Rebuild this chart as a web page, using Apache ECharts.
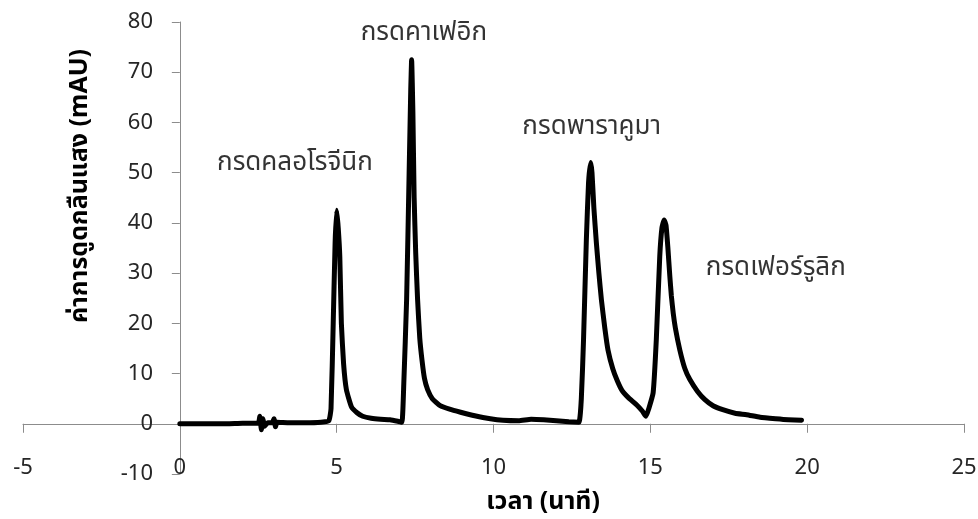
<!DOCTYPE html>
<html>
<head>
<meta charset="utf-8">
<script src="https://cdn.jsdelivr.net/npm/echarts@6/dist/echarts.min.js"></script>
<style>
html,body{margin:0;padding:0;background:#fff;}
#chart{width:978px;height:519px;}
</style>
</head>
<body>
<div id="chart"></div>
<script>
// Retention time (min)
var timeValues = [
  0, 0.5, 1, 1.5, 2, 2.5, 2.55, 2.6, 2.65, 2.7, 2.8, 2.95, 3.0, 3.05, 3.1, 3.5, 4.0, 4.5, 4.75,
  4.82, 4.89, 4.95, 5.0, 5.05, 5.1, 5.15, 5.22, 5.31, 5.47, 5.65, 5.83, 6.1, 6.4, 6.7, 6.95, 7.08,
  7.14, 7.23, 7.31, 7.36, 7.39, 7.43, 7.47, 7.52, 7.58, 7.65, 7.72, 7.8, 7.9, 8.05, 8.3, 8.6, 8.95, 9.4, 9.9,
  10.3, 10.8, 11.2, 11.6, 12.0, 12.4, 12.72,
  12.8, 12.87, 12.96, 13.03, 13.1, 13.14, 13.2, 13.28, 13.36, 13.44, 13.55, 13.65, 13.8, 13.95, 14.1, 14.3, 14.56, 14.75, 14.86,
  14.95, 15.09, 15.19, 15.3, 15.37, 15.44, 15.5, 15.56, 15.62, 15.67, 15.73, 15.8, 15.94, 16.1, 16.26, 16.5, 16.74, 17.0, 17.31, 17.7, 18.07, 18.5, 19.0, 19.4, 19.82
];
// Absorbance (mAU)
var absorbanceValues = [
  0, 0, 0, 0, 0.1, 0.1, 1.5, -1.2, 1.0, -0.5, 0.2, 0.2, 1.0, -0.6, 0.3, 0.2, 0.2, 0.3, 0.6,
  3, 20, 36, 42.5, 39, 33.3, 20, 12, 6.8, 3.4, 2.2, 1.5, 1.1, 0.9, 0.8, 0.5, 0.3,
  8, 24.7, 49.9, 66, 72.5, 62, 45, 34, 24.7, 17, 12.7, 9, 6.8, 5, 3.6, 2.9, 2.3, 1.6, 1.0,
  0.7, 0.6, 0.9, 0.8, 0.6, 0.4, 0.3,
  5, 16.7, 36.6, 48, 52, 50, 43, 36, 30, 24.7, 19, 14.7, 11, 8.5, 6.6, 5.2, 3.8, 2.5, 1.5,
  3, 6.2, 16.7, 33.3, 39, 40.6, 39.5, 35, 29.5, 25.5, 22, 19, 14.7, 11, 8.8, 6.5, 4.8, 3.6, 2.8, 2.1, 1.8, 1.3, 1.0, 0.8, 0.7
];
// Peak annotations
var peakNames = ['กรดคลอโรจีนิก', 'กรดคาเฟอิก', 'กรดพาราคูมา', 'กรดเฟอร์รูลิก'];
var peakLabelTime = [3.67, 7.78, 13.13, 19.0];
var peakLabelAbs = [52.1, 77.8, 59.1, 31.0];
// Axis settings
var xTicks = {min: -5, max: 25, interval: 5};
var yTicks = {min: -10, max: 80, interval: 10};
var xTitle = 'เวลา (นาที)';
var yTitle = 'ค่าการดูดกลืนแสง (mAU)';

var FONT = "'Noto Sans', 'Noto Sans Thai', 'Loma', sans-serif";
var lineData = timeValues.map(function (t, i) { return [t, absorbanceValues[i]]; });
var labelData = peakNames.map(function (n, i) { return {name: n, value: [peakLabelTime[i], peakLabelAbs[i]]}; });

var chart = echarts.init(document.getElementById('chart'), null, {renderer: 'canvas'});
var axisGray = '#8c8c8c';
chart.setOption({
  animation: false,
  backgroundColor: '#ffffff',
  grid: {left: 23, right: 14, top: 22, bottom: 45, containLabel: false, outerBoundsMode: 'none'},
  xAxis: [
    {
      type: 'value', min: xTicks.min, max: xTicks.max, interval: xTicks.interval,
      axisLine: {show: true, onZero: true, onZeroAxisIndex: 0, lineStyle: {color: axisGray, width: 1}},
      axisTick: {show: true, inside: false, length: 9, lineStyle: {color: axisGray}},
      axisLabel: {show: false},
      splitLine: {show: false}
    },
    {
      type: 'value', min: xTicks.min, max: xTicks.max, interval: xTicks.interval,
      position: 'bottom', offset: -25,
      axisLine: {show: false, onZero: false},
      axisTick: {show: false},
      axisLabel: {show: true, color: '#262626', fontSize: 22, fontFamily: FONT, margin: 8},
      splitLine: {show: false}
    }
  ],
  yAxis: [
    {
      type: 'value', min: yTicks.min, max: yTicks.max, interval: yTicks.interval,
      axisLine: {show: true, onZero: true, onZeroAxisIndex: 0, lineStyle: {color: axisGray, width: 1}},
      axisTick: {show: true, inside: false, length: 8, lineStyle: {color: axisGray}},
      axisLabel: {show: false},
      splitLine: {show: false}
    },
    {
      type: 'value', min: yTicks.min, max: yTicks.max, interval: yTicks.interval,
      position: 'left', offset: -138,
      axisLine: {show: false, onZero: false},
      axisTick: {show: false},
      axisLabel: {show: true, color: '#262626', fontSize: 22, fontFamily: FONT, margin: 8},
      splitLine: {show: false}
    }
  ],
  graphic: [
    {type: 'text', x: 543, y: 502, style: {text: xTitle, font: "bold 25px " + FONT, fill: '#000', textAlign: 'center', textVerticalAlign: 'middle'}},
    {type: 'text', x: 80, y: 186, rotation: Math.PI / 2, style: {text: yTitle, font: "bold 25px " + FONT, fill: '#000', textAlign: 'center', textVerticalAlign: 'middle'}}
  ],
  series: [
    {
      type: 'line', xAxisIndex: 0, yAxisIndex: 0, data: lineData,
      showSymbol: false, smooth: 0.15,
      lineStyle: {color: '#000', width: 5, join: 'round', cap: 'round'},
      z: 3
    },
    {
      type: 'scatter', xAxisIndex: 0, yAxisIndex: 0, data: labelData,
      symbolSize: 1, itemStyle: {color: 'rgba(0,0,0,0)'},
      label: {show: true, position: 'inside', formatter: '{b}', color: '#000', fontSize: 26, fontFamily: FONT},
      silent: true, z: 4
    }
  ]
});
</script>
</body>
</html>
